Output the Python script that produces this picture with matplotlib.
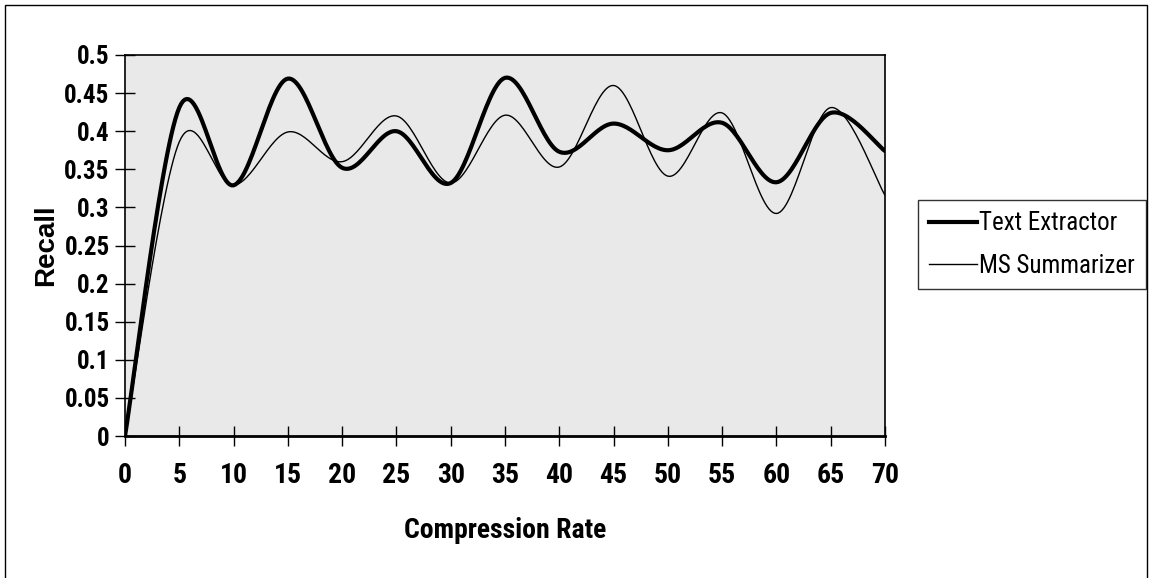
import numpy as np
import matplotlib
matplotlib.use("Agg")
import matplotlib.pyplot as plt
from matplotlib.patches import Rectangle
from matplotlib.lines import Line2D
from matplotlib import font_manager

compression_rate = [0, 5, 10, 15, 20, 25, 30, 35, 40, 45, 50, 55, 60, 65, 70]
text_extractor = [0, 0.431, 0.329, 0.469, 0.352, 0.400, 0.332, 0.470, 0.373, 0.410, 0.375, 0.411, 0.333, 0.424, 0.374]
ms_summarizer = [0, 0.386, 0.329, 0.399, 0.360, 0.420, 0.332, 0.421, 0.353, 0.460, 0.341, 0.424, 0.292, 0.431, 0.316]
y_ticks = [0, 0.05, 0.1, 0.15, 0.2, 0.25, 0.3, 0.35, 0.4, 0.45, 0.5]
y_tick_labels = ["0", "0.05", "0.1", "0.15", "0.2", "0.25", "0.3", "0.35", "0.4", "0.45", "0.5"]
x_ticks = list(range(0, 75, 5))


def smooth(x, y, n=30):
    """Catmull-Rom (Excel-style) smoothing through the given points."""
    x = np.asarray(x, float)
    y = np.asarray(y, float)
    px = np.concatenate([[x[0]], x, [x[-1]]])
    py = np.concatenate([[y[0]], y, [y[-1]]])
    xs, ys = [], []
    t = np.linspace(0, 1, n)
    for i in range(1, len(px) - 2):
        p0x, p1x, p2x, p3x = px[i - 1], px[i], px[i + 1], px[i + 2]
        p0y, p1y, p2y, p3y = py[i - 1], py[i], py[i + 1], py[i + 2]
        c1x = p1x + (p2x - p0x) / 6
        c1y = p1y + (p2y - p0y) / 6
        c2x = p2x - (p3x - p1x) / 6
        c2y = p2y - (p3y - p1y) / 6
        bx = (1 - t) ** 3 * p1x + 3 * (1 - t) ** 2 * t * c1x + 3 * (1 - t) * t ** 2 * c2x + t ** 3 * p2x
        by = (1 - t) ** 3 * p1y + 3 * (1 - t) ** 2 * t * c1y + 3 * (1 - t) * t ** 2 * c2y + t ** 3 * p2y
        xs.extend(bx)
        ys.extend(by)
    return np.array(xs), np.array(ys)


names = {f.name for f in font_manager.fontManager.ttflist}
cond_names = [n for n in ["Liberation Sans Narrow", "Roboto Condensed", "DejaVu Sans Condensed",
                          "Open Sans Condensed"] if n in names]
if cond_names:
    narrow = dict(family=[cond_names[0], "Liberation Sans", "DejaVu Sans"])
    scale = 1.0
else:
    narrow = dict(family=["Liberation Sans", "DejaVu Sans"])
    scale = 0.85
regular = ["Liberation Sans", "DejaVu Sans"]

fig = plt.figure(figsize=(11.5, 5.78), dpi=100)
fig.patch.set_facecolor("white")
fig.patches.append(Rectangle((5 / 1150, -0.02), 1142 / 1150, 1 - 5 / 578 + 0.02,
                             transform=fig.transFigure, fill=False, edgecolor="black", lw=1.0))

ax = fig.add_axes([125 / 1150, 1 - 436 / 578, 760 / 1150, 381 / 578])
ax.set_facecolor("#e9e9e9")

sx, sy = smooth(compression_rate, text_extractor)
ax.plot(sx, sy, color="black", lw=3.0, solid_capstyle="round", zorder=3)
sx2, sy2 = smooth(compression_rate, ms_summarizer)
ax.plot(sx2, sy2, color="black", lw=1.0, zorder=4)

ax.set_xlim(0, 70)
ax.set_ylim(0, 0.5)
ax.set_xticks(x_ticks)
ax.set_xticklabels([str(v) for v in x_ticks], fontweight="bold", fontsize=20 * scale, **narrow)
ax.set_yticks(y_ticks)
ax.set_yticklabels(y_tick_labels, fontweight="bold", fontsize=18 * scale, **narrow)
ax.tick_params(axis="x", direction="inout", length=14, width=1, pad=12)
ax.tick_params(axis="y", direction="inout", length=14, width=1, pad=4)
for s in ax.spines.values():
    s.set_linewidth(1.2)
ax.spines["bottom"].set_linewidth(2)

ax.set_ylabel("Recall", fontfamily=regular, fontweight="bold", fontsize=20, labelpad=4)
ax.set_xlabel("Compression Rate", fontweight="bold", fontsize=20 * scale, labelpad=20, **narrow)

leg_prop = dict(size=18 * scale)
leg_prop.update({k: v for k, v in narrow.items()})
handles = [Line2D([], [], color="black", lw=3.0), Line2D([], [], color="black", lw=1.0)]
leg = fig.legend(handles, ["Text Extractor", "MS Summarizer"], loc="upper left",
                 bbox_to_anchor=(918 / 1150, 1 - 200 / 578), borderaxespad=0, frameon=True,
                 fancybox=False, edgecolor="black", handlelength=1.9, handletextpad=0.1,
                 borderpad=0.45, labelspacing=0.75, prop=font_manager.FontProperties(**leg_prop))
leg.get_frame().set_linewidth(1.0)

fig.savefig("out.png", dpi=100)
